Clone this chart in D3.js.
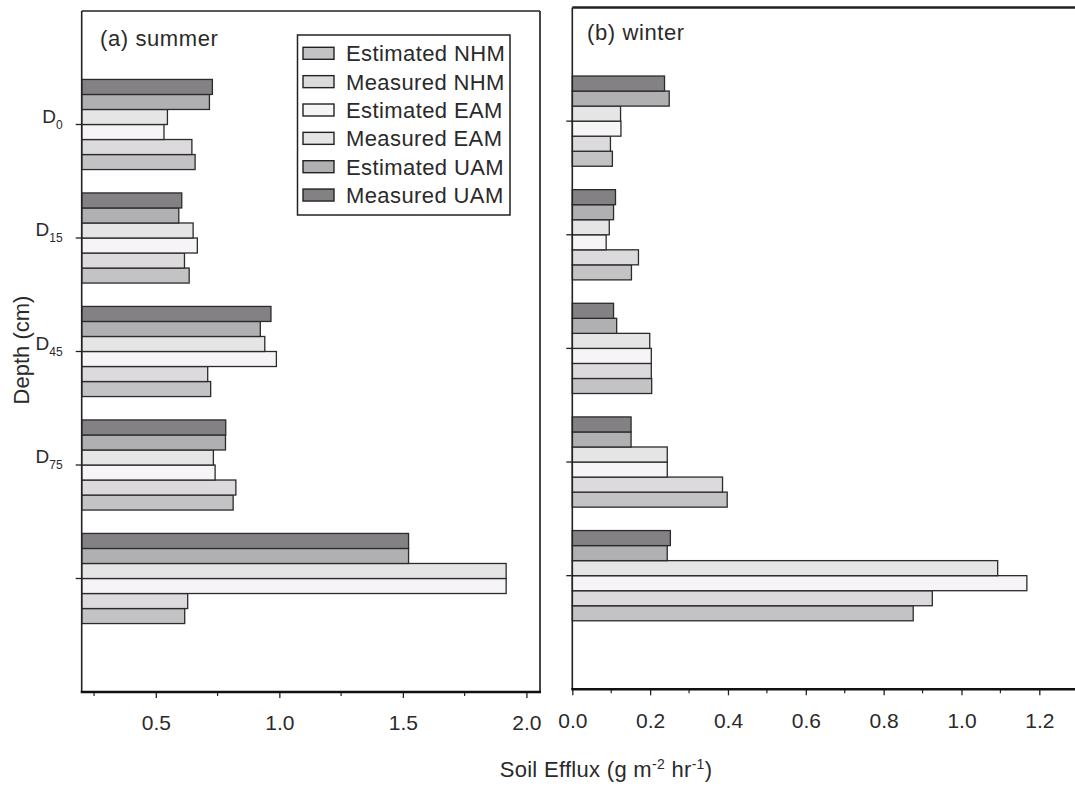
<!DOCTYPE html>
<html>
<head>
<meta charset="utf-8">
<script src="https://cdnjs.cloudflare.com/ajax/libs/d3/7.8.5/d3.min.js"></script>
<style>
body{margin:0;background:#fff;}
text{font-family:"Liberation Sans",Arial,sans-serif;fill:#2a2a2a;}
</style>
</head>
<body>
<div id="svgContainer"></div>
<script>
// depth rows, top to bottom (last row has no label in the figure)
var depthSubs = ["0","15","45","75",""];
var seriesNames = ["Estimated NHM","Measured NHM","Estimated EAM","Measured EAM","Estimated UAM","Measured UAM"];
var seriesColors = ["#c3c2c4","#dcdadd","#f6f4f7","#e5e5e5","#b0afb1","#838183"];

// (a) summer
var sumEstNHM = [0.659, 0.635, 0.722, 0.813, 0.617];
var sumMeaNHM = [0.646, 0.616, 0.710, 0.824, 0.629];
var sumEstEAM = [0.533, 0.668, 0.988, 0.740, 1.918];
var sumMeaEAM = [0.547, 0.651, 0.941, 0.733, 1.918];
var sumEstUAM = [0.717, 0.593, 0.923, 0.782, 1.523];
var sumMeaUAM = [0.729, 0.605, 0.966, 0.783, 1.523];

// (b) winter
var winEstNHM = [0.103, 0.152, 0.204, 0.398, 0.876];
var winMeaNHM = [0.098, 0.170, 0.203, 0.386, 0.925];
var winEstEAM = [0.125, 0.087, 0.203, 0.244, 1.168];
var winMeaEAM = [0.124, 0.095, 0.199, 0.244, 1.093];
var winEstUAM = [0.249, 0.106, 0.114, 0.151, 0.244];
var winMeaUAM = [0.237, 0.111, 0.106, 0.151, 0.252];

var sumTicks = [0.5, 1.0, 1.5, 2.0];
var sumMinor = [0.25, 0.75, 1.25, 1.75];
var winTicks = [0.0, 0.2, 0.4, 0.6, 0.8, 1.0, 1.2];
var winMinor = [0.1, 0.3, 0.5, 0.7, 0.9, 1.1];

var svgWidth = 1075, svgHeight = 787;
var svg = d3.select("#svgContainer").append("svg")
    .attr("width", svgWidth)
    .attr("height", svgHeight);

function panel(p){
    var x = d3.scaleLinear().domain(p.xDomain).range([p.left, p.xEnd]);
    var y = d3.scaleBand().domain(d3.range(depthSubs.length))
        .range([p.top, p.bottom]).paddingInner(0.206).paddingOuter(0.603);
    // first series sits at the bottom of each group
    var yIn = d3.scaleBand().domain(d3.range(seriesNames.length).reverse())
        .range([0, y.bandwidth()]);
    var g = svg.append("g");
    var x0 = x(p.xDomain[0]);

    p.values.forEach(function(vals, s){
        g.selectAll(null).data(vals).enter().append("rect")
            .attr("x", x0)
            .attr("y", function(d, i){ return y(i) + yIn(s); })
            .attr("width", function(d){ return x(d) - x0; })
            .attr("height", yIn.bandwidth())
            .attr("fill", seriesColors[s])
            .attr("stroke", "#2b2b2b")
            .attr("stroke-width", 1.3);
    });

    // frame
    g.append("line").attr("x1", p.left).attr("x2", p.right).attr("y1", p.top).attr("y2", p.top)
        .attr("stroke", "#222").attr("stroke-width", p.topW);
    g.append("line").attr("x1", p.left).attr("x2", p.left).attr("y1", p.top).attr("y2", p.bottom)
        .attr("stroke", "#222").attr("stroke-width", 1.6);
    g.append("line").attr("x1", p.right).attr("x2", p.right).attr("y1", p.top).attr("y2", p.bottom)
        .attr("stroke", "#333").attr("stroke-width", 1.8);

    // depth ticks
    g.selectAll(null).data(depthSubs).enter().append("line")
        .attr("x1", p.left - 6).attr("x2", p.left)
        .attr("y1", function(d, i){ return y(i) + y.bandwidth() / 2; })
        .attr("y2", function(d, i){ return y(i) + y.bandwidth() / 2; })
        .attr("stroke", "#222").attr("stroke-width", 1.3);

    if (p.depthLabels) {
        var lab = g.selectAll(null).data(depthSubs).enter().append("text")
            .attr("x", p.left - 19)
            .attr("y", function(d, i){ return y(i) + y.bandwidth() / 2 - 2; })
            .attr("text-anchor", "end")
            .attr("font-size", 19);
        lab.append("tspan").text(function(d){ return d === "" ? "" : "D"; });
        lab.append("tspan").attr("dy", 6).attr("font-size", 12).text(function(d){ return d; });
    }

    // x axis
    g.append("g")
        .attr("transform", "translate(0," + p.bottom + ")")
        .call(d3.axisBottom(x).tickValues(p.ticks).tickSize(6).tickPadding(17.5)
            .tickFormat(d3.format(".1f")))
        .call(function(a){
            a.select(".domain").remove();
            a.selectAll(".tick line").attr("stroke", "#222").attr("stroke-width", 1.3);
            a.selectAll(".tick text").attr("font-size", 21).attr("fill", "#2a2a2a")
                .attr("font-family", "Liberation Sans, Arial, sans-serif");
        });
    g.selectAll(null).data(p.minor).enter().append("line")
        .attr("x1", function(d){ return x(d); }).attr("x2", function(d){ return x(d); })
        .attr("y1", p.bottom).attr("y2", p.bottom + 4)
        .attr("stroke", "#222").attr("stroke-width", 1.2);
    g.append("line").attr("x1", p.left - 1).attr("x2", p.right + 1)
        .attr("y1", p.bottom).attr("y2", p.bottom)
        .attr("stroke", "#111").attr("stroke-width", 2.6);

    g.append("text")
        .attr("x", p.titleX).attr("y", p.titleY)
        .attr("font-size", 22)
        .attr("letter-spacing", 0.6)
        .text(p.title);
}

panel({
    left: 81.7, right: 540, xEnd: 540, top: 11, bottom: 692, topW: 1.6,
    xDomain: [0.2, 2.055],
    values: [sumEstNHM, sumMeaNHM, sumEstEAM, sumMeaEAM, sumEstUAM, sumMeaUAM],
    ticks: sumTicks, minor: sumMinor, depthLabels: true,
    title: "(a) summer", titleX: 100, titleY: 46
});

panel({
    left: 572.3, right: 1080, xEnd: 1075, top: 7.5, bottom: 689.3, topW: 2.4,
    xDomain: [0, 1.2917],
    values: [winEstNHM, winMeaNHM, winEstEAM, winMeaEAM, winEstUAM, winMeaUAM],
    ticks: winTicks, minor: winMinor, depthLabels: false,
    title: "(b) winter", titleX: 587, titleY: 40
});

// legend
var legend = svg.append("g").attr("class", "legend");
legend.append("rect")
    .attr("x", 297.5).attr("y", 35).attr("width", 212.5).attr("height", 180)
    .attr("fill", "#fff").attr("stroke", "#222").attr("stroke-width", 1.5);
var item = legend.selectAll(null).data(seriesNames).enter().append("g")
    .attr("transform", function(d, i){ return "translate(303," + (53.3 + i * 28.35) + ")"; });
item.append("rect")
    .attr("x", 0).attr("y", -6).attr("width", 31).attr("height", 12)
    .attr("fill", function(d, i){ return seriesColors[i]; })
    .attr("stroke", "#222").attr("stroke-width", 1.4);
item.append("text")
    .attr("x", 43).attr("y", 8)
    .attr("font-size", 22)
    .attr("letter-spacing", 0.4)
    .text(function(d){ return d; });

// axis titles
var xt = svg.append("text")
    .attr("x", 606).attr("y", 777)
    .attr("text-anchor", "middle")
    .attr("font-size", 22)
    .attr("letter-spacing", 0.3);
xt.append("tspan").text("Soil Efflux (g m");
xt.append("tspan").attr("dy", -8).attr("font-size", 14).text("-2");
xt.append("tspan").attr("dy", 8).text(" hr");
xt.append("tspan").attr("dy", -8).attr("font-size", 14).text("-1");
xt.append("tspan").attr("dy", 8).text(")");

svg.append("text")
    .attr("transform", "translate(29,350) rotate(-90)")
    .attr("text-anchor", "middle")
    .attr("font-size", 22)
    .text("Depth (cm)");
</script>
</body>
</html>
